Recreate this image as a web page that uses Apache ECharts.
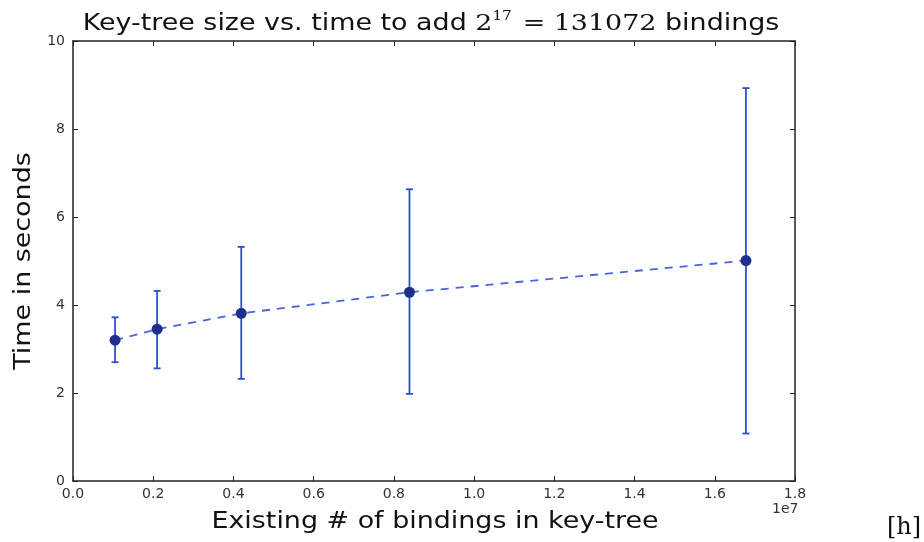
<!DOCTYPE html>
<html>
<head>
<meta charset="utf-8">
<script src="https://cdn.jsdelivr.net/npm/echarts@6/dist/echarts.min.js"></script>
<style>
  html, body { margin: 0; padding: 0; background: #fff; }
  #chart { width: 924px; height: 542px; }
</style>
</head>
<body>
<div id="chart"></div>
<script>
// Existing bindings in the key-tree: 2^20 .. 2^24
const treeSizes = [1048576, 2097152, 4194304, 8388608, 16777216];
// Mean time (s) to add 2^17 bindings
const meanTimes = [3.20, 3.45, 3.81, 4.29, 5.01];
// Error bar extents (s)
const lowTimes  = [2.70, 2.56, 2.32, 1.98, 1.08];
const highTimes = [3.72, 4.32, 5.32, 6.63, 8.93];

const font = '"DejaVu Sans", sans-serif';
const serif = '"DejaVu Serif", serif';
const chart = echarts.init(document.getElementById('chart'), null, { renderer: 'canvas' });

const meanData = treeSizes.map((x, i) => [x, meanTimes[i]]);
const barData = treeSizes.map((x, i) => [x, lowTimes[i], highTimes[i]]);

const tickStyle = { show: true, inside: true, length: 5, lineStyle: { color: '#222', width: 1 } };
const axisLine = { show: true, onZero: false, lineStyle: { color: '#222', width: 1.5 } };
const wide = 1.17; // horizontal stretch for the large labels

chart.setOption({
  animation: false,
  backgroundColor: '#fff',
  grid: { left: 73, right: 129, top: 41, bottom: 61 },
  xAxis: [{
    type: 'value', min: 0, max: 1.8e7, interval: 2e6,
    axisLine: axisLine, axisTick: tickStyle, splitLine: { show: false },
    axisLabel: {
      fontFamily: font, fontSize: 14, color: '#333', margin: 6,
      formatter: v => (v / 1e7).toFixed(1)
    }
  }, {
    type: 'value', position: 'top', min: 0, max: 1.8e7, interval: 2e6,
    axisLine: axisLine, axisTick: tickStyle, axisLabel: { show: false }, splitLine: { show: false }
  }],
  yAxis: [{
    type: 'value', min: 0, max: 10, interval: 2,
    axisLine: axisLine, axisTick: tickStyle, splitLine: { show: false },
    axisLabel: { fontFamily: font, fontSize: 14, color: '#333', margin: 8 }
  }, {
    type: 'value', position: 'right', min: 0, max: 10, interval: 2,
    axisLine: axisLine, axisTick: tickStyle, axisLabel: { show: false }, splitLine: { show: false }
  }],
  series: [{
    type: 'custom',
    xAxisIndex: 0, yAxisIndex: 0,
    data: barData,
    renderItem: function (params, api) {
      const x = api.value(0);
      const lo = api.coord([x, api.value(1)]);
      const hi = api.coord([x, api.value(2)]);
      const cap = 3.5;
      const style = { stroke: '#2f4fd0', lineWidth: 1.8 };
      return {
        type: 'group',
        children: [
          { type: 'line', shape: { x1: lo[0], y1: lo[1], x2: hi[0], y2: hi[1] }, style: style },
          { type: 'line', shape: { x1: lo[0] - cap, y1: lo[1], x2: lo[0] + cap, y2: lo[1] }, style: style },
          { type: 'line', shape: { x1: hi[0] - cap, y1: hi[1], x2: hi[0] + cap, y2: hi[1] }, style: style }
        ]
      };
    },
    z: 2
  }, {
    type: 'line',
    xAxisIndex: 0, yAxisIndex: 0,
    data: meanData,
    symbol: 'circle', symbolSize: 11,
    itemStyle: { color: '#1c2f8a' },
    lineStyle: { color: '#4a63e0', width: 1.8, type: [8, 7] },
    z: 3
  }, {
    // keeps the mirrored top/right frame axes active
    type: 'line', xAxisIndex: 1, yAxisIndex: 1, data: [], silent: true
  }],
  graphic: [{
    type: 'text', x: 431, y: 24, scaleX: wide,
    style: {
      text: 'Key-tree size vs. time to add {m|2}{sup|17}{m| = 131072} bindings',
      fontFamily: font, fontSize: 23, fill: '#111',
      align: 'center', verticalAlign: 'middle',
      rich: {
        m: { fontFamily: serif, fontSize: 23, fill: '#111' },
        sup: { fontFamily: serif, fontSize: 13, fill: '#111', verticalAlign: 'top', padding: [0, 2, 14, 0] }
      }
    }
  }, {
    type: 'text', x: 435, y: 522, scaleX: wide,
    style: {
      text: 'Existing # of bindings in key-tree',
      fontFamily: font, fontSize: 23, fill: '#111', align: 'center', verticalAlign: 'middle'
    }
  }, {
    type: 'text', x: 24, y: 261, rotation: Math.PI / 2, scaleX: wide,
    style: {
      text: 'Time in seconds',
      fontFamily: font, fontSize: 23, fill: '#111', align: 'center', verticalAlign: 'middle'
    }
  }, {
    type: 'text', x: 772, y: 502,
    style: { text: '1e7', fontFamily: font, fontSize: 14, fill: '#333' }
  }, {
    type: 'text', x: 887, y: 516,
    style: { text: '[h]', fontFamily: serif, fontSize: 24, fill: '#111' }
  }]
});
</script>
</body>
</html>
